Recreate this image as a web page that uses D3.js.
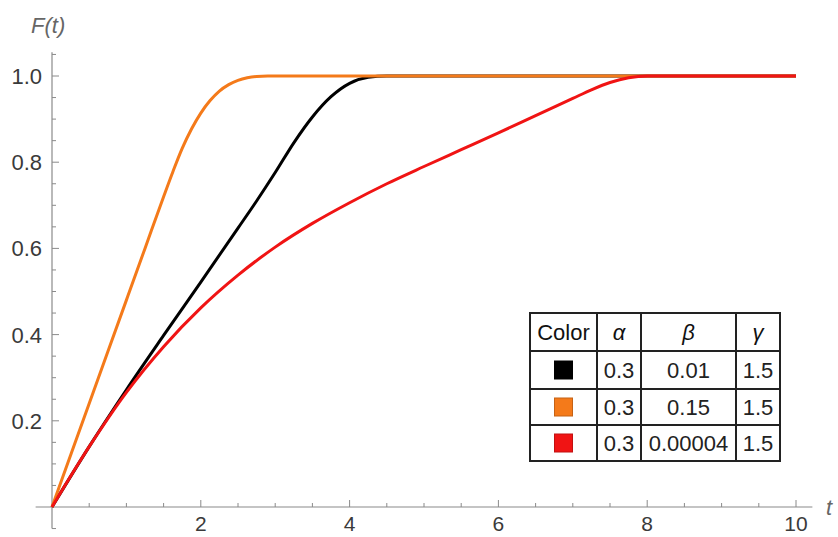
<!DOCTYPE html>
<html>
<head>
<meta charset="utf-8">
<script src="https://cdn.jsdelivr.net/npm/d3@7"></script>
<style>
  body { margin: 0; background: #fff; }
  svg { display: block; font-family: "Liberation Sans", Arial, sans-serif; }
</style>
</head>
<body>
<svg id="chart" width="838" height="537"></svg>
<script>
// F(t), one t/F pair of arrays per curve
const blackT  = [0, 0.5, 1, 1.5, 2, 2.5, 2.75, 3, 3.25, 3.5, 3.75, 4, 4.25, 4.5, 10];
const blackF  = [0, 0.14, 0.272, 0.398, 0.522, 0.647, 0.71, 0.776, 0.845, 0.905, 0.952, 0.983, 0.997, 1, 1];

const orangeT = [0, 0.5, 1, 1.25, 1.5, 1.625, 1.75, 1.875, 2, 2.125, 2.25, 2.375, 2.5, 2.625, 2.75, 2.9, 10];
const orangeF = [0, 0.24, 0.48, 0.6, 0.72, 0.778, 0.832, 0.877, 0.914, 0.943, 0.965, 0.98, 0.99, 0.996, 0.999, 1, 1];

const redT    = [0, 0.5, 1, 1.5, 2, 2.5, 3, 3.5, 4, 4.5, 5, 5.5, 6, 6.5, 7, 7.25, 7.5, 7.75, 8, 10];
const redF    = [0, 0.14, 0.266, 0.372, 0.462, 0.538, 0.603, 0.658, 0.706, 0.75, 0.79, 0.829, 0.868, 0.908, 0.948, 0.968, 0.985, 0.996, 1, 1];

const seriesColors = ["#000000", "#f47a1a", "#f01414"];
const seriesT = [blackT, orangeT, redT];
const seriesF = [blackF, orangeF, redF];

// legend table
const tableHeader = ["Color", "α", "β", "γ"];
const alphaVals = ["0.3", "0.3", "0.3"];
const betaVals  = ["0.01", "0.15", "0.00004"];
const gammaVals = ["1.5", "1.5", "1.5"];

const xTicks = [2, 4, 6, 8, 10];
const yTicks = [0.2, 0.4, 0.6, 0.8, 1.0];

const svg = d3.select("#chart");

const x = d3.scaleLinear().domain([0, 10]).range([52, 796]);
const y = d3.scaleLinear().domain([0, 1]).range([507, 76]);

const axisColor = "#8a8a8a";
const labelColor = "#3a3a3a";

// axes lines (extend a little beyond the plot range)
svg.append("line")
  .attr("x1", x(-0.22)).attr("x2", x(10.22))
  .attr("y1", y(0)).attr("y2", y(0))
  .attr("stroke", axisColor).attr("stroke-width", 1.2);
svg.append("line")
  .attr("x1", x(0)).attr("x2", x(0))
  .attr("y1", y(-0.05)).attr("y2", y(1.055))
  .attr("stroke", axisColor).attr("stroke-width", 1.2);

// x ticks
const xMinor = d3.range(0.5, 10.01, 0.5);
svg.append("g").selectAll("line").data(xMinor).join("line")
  .attr("x1", d => x(d)).attr("x2", d => x(d))
  .attr("y1", y(0))
  .attr("y2", d => y(0) - (d % 2 === 0 ? 7 : 4))
  .attr("stroke", axisColor).attr("stroke-width", 1);
svg.append("g").selectAll("text").data(xTicks).join("text")
  .attr("x", d => x(d)).attr("y", 531)
  .attr("text-anchor", "middle")
  .attr("font-size", 21).attr("fill", labelColor)
  .text(d => d);

// y ticks
const yMinor = d3.range(-1, 22).map(i => i * 0.05).filter(d => Math.abs(d) > 1e-9);
svg.append("g").selectAll("line").data(yMinor).join("line")
  .attr("x1", x(0))
  .attr("x2", d => x(0) + (Math.abs(d * 5 - Math.round(d * 5)) < 1e-6 ? 7 : 4))
  .attr("y1", d => y(d)).attr("y2", d => y(d))
  .attr("stroke", axisColor).attr("stroke-width", 1);
svg.append("g").selectAll("text").data(yTicks).join("text")
  .attr("x", 42).attr("y", d => y(d) + 8)
  .attr("text-anchor", "end")
  .attr("font-size", 22).attr("fill", labelColor)
  .text(d => d.toFixed(1));

// axis labels
svg.append("text")
  .attr("x", 31).attr("y", 33)
  .attr("font-size", 22).attr("font-style", "italic").attr("fill", "#666")
  .text("F(t)");
svg.append("text")
  .attr("x", 826).attr("y", 515)
  .attr("font-size", 22).attr("font-style", "italic").attr("fill", "#666")
  .text("t");

// curves
const line = d3.line()
  .x(d => x(d[0]))
  .y(d => y(d[1]))
  .curve(d3.curveMonotoneX);

seriesF.forEach((vals, k) => {
  const pts = vals.map((v, i) => [seriesT[k][i], v]);
  svg.append("path")
    .attr("d", line(pts))
    .attr("fill", "none")
    .attr("stroke", seriesColors[k])
    .attr("stroke-width", 3)
    .attr("stroke-linejoin", "round");
});

// legend table
const colEdges = [530, 597, 641, 736, 780];
const rowEdges = [313, 351, 389, 425, 461];
const table = svg.append("g");

table.append("rect")
  .attr("x", colEdges[0]).attr("y", rowEdges[0])
  .attr("width", colEdges[4] - colEdges[0])
  .attr("height", rowEdges[4] - rowEdges[0])
  .attr("fill", "#fff");

const rowMid = i => (rowEdges[i] + rowEdges[i + 1]) / 2;
const colMid = j => (colEdges[j] + colEdges[j + 1]) / 2;

tableHeader.forEach((h, j) => {
  table.append("text")
    .attr("x", colMid(j)).attr("y", rowMid(0) + 8)
    .attr("text-anchor", "middle")
    .attr("font-size", 22)
    .attr("font-style", j > 0 ? "italic" : "normal")
    .attr("fill", "#111")
    .text(h);
});

seriesColors.forEach((c, i) => {
  table.append("rect")
    .attr("x", colMid(0) - 9).attr("y", rowMid(i + 1) - 9)
    .attr("width", 18).attr("height", 18)
    .attr("fill", c)
    .attr("stroke", d3.color(c).darker(0.6))
    .attr("stroke-width", 1);
  [alphaVals[i], betaVals[i], gammaVals[i]].forEach((v, j) => {
    table.append("text")
      .attr("x", colMid(j + 1)).attr("y", rowMid(i + 1) + 8)
      .attr("text-anchor", "middle")
      .attr("font-size", 22).attr("fill", "#222")
      .text(v);
  });
});

colEdges.forEach(cx => {
  table.append("line")
    .attr("x1", cx).attr("x2", cx)
    .attr("y1", rowEdges[0]).attr("y2", rowEdges[4])
    .attr("stroke", "#222").attr("stroke-width", 2);
});
rowEdges.forEach(ry => {
  table.append("line")
    .attr("x1", colEdges[0] - 1).attr("x2", colEdges[4] + 1)
    .attr("y1", ry).attr("y2", ry)
    .attr("stroke", "#222").attr("stroke-width", 2);
});
</script>
</body>
</html>
